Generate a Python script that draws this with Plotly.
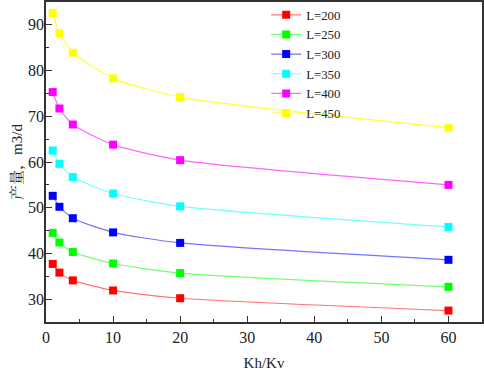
import plotly.graph_objects as go

kh_kv = [1, 2, 4, 10, 20, 60]
labels = ["L=200", "L=250", "L=300", "L=350", "L=400", "L=450"]
L200 = [37.7, 35.8, 34.1, 31.9, 30.2, 27.5]
L250 = [44.5, 42.4, 40.3, 37.8, 35.7, 32.7]
L300 = [52.6, 50.2, 47.7, 44.6, 42.3, 38.6]
L350 = [62.5, 59.6, 56.7, 53.1, 50.3, 45.8]
L400 = [75.3, 71.7, 68.2, 63.8, 60.4, 55.0]
L450 = [92.6, 88.2, 83.9, 78.3, 74.2, 67.5]
series = [L200, L250, L300, L350, L400, L450]
marker_colors = ["#FF0000", "#00FF00", "#0000FF", "#00FFFF", "#FF00FF", "#FFFF00"]
line_colors = ["rgba(255,0,0,0.55)", "rgba(0,255,0,0.55)", "rgba(0,0,255,0.55)",
               "rgba(0,255,255,0.55)", "rgba(255,0,255,0.6)", "rgba(255,255,0,0.8)"]

serif = "Liberation Serif, Times New Roman, serif"

fig = go.Figure()
for name, ys, mc, lc in zip(labels, series, marker_colors, line_colors):
    fig.add_trace(go.Scatter(
        x=kh_kv, y=ys, name=name, mode="lines+markers",
        line=dict(color=lc, width=1.2, shape="spline", smoothing=0.6),
        marker=dict(symbol="square", size=8, color=mc),
    ))

axis_common = dict(
    showline=True, linecolor="#333333", linewidth=1.5, mirror=True,
    showgrid=False, zeroline=False, ticks="inside", ticklen=6, tickwidth=1.3,
    tickcolor="#333333", automargin=False,
    tickfont=dict(family=serif, size=16, color="#222222"),
)

fig.update_xaxes(range=[0, 65], tickmode="array", tickvals=[0, 10, 20, 30, 40, 50, 60],
                 minor=dict(ticks="inside", ticklen=3, tickwidth=1.2, tickcolor="#333333", dtick=5, tick0=0),
                 title=dict(text="Kh/Kv", font=dict(family=serif, size=15, color="#222222"), standoff=14),
                 **axis_common)
fig.update_yaxes(range=[25, 95], tickmode="array", tickvals=[30, 40, 50, 60, 70, 80, 90],
                 minor=dict(ticks="inside", ticklen=3, tickwidth=1.2, tickcolor="#333333", dtick=5, tick0=0),
                 ticklabelstandoff=-3,
                 title=dict(text="产量，m3/d", font=dict(family="Liberation Serif, Noto Serif CJK SC, Noto Sans CJK SC", size=15, color="#222222"), standoff=2),
                 **axis_common)

fig.update_layout(
    width=484, height=371, autosize=False,
    margin=dict(l=46, r=2, t=2, b=49, pad=0, autoexpand=False),
    paper_bgcolor="white", plot_bgcolor="white",
    showlegend=True,
    legend=dict(x=0.505, y=1.035, yref="container", xanchor="left", yanchor="top",
                bgcolor="rgba(0,0,0,0)", font=dict(family=serif, size=12.8, color="#222222"),
                itemwidth=30, tracegroupgap=0),
)

fig.write_html("out.html", config={"displayModeBar": False},
               post_script="document.body.style.margin='0';")
